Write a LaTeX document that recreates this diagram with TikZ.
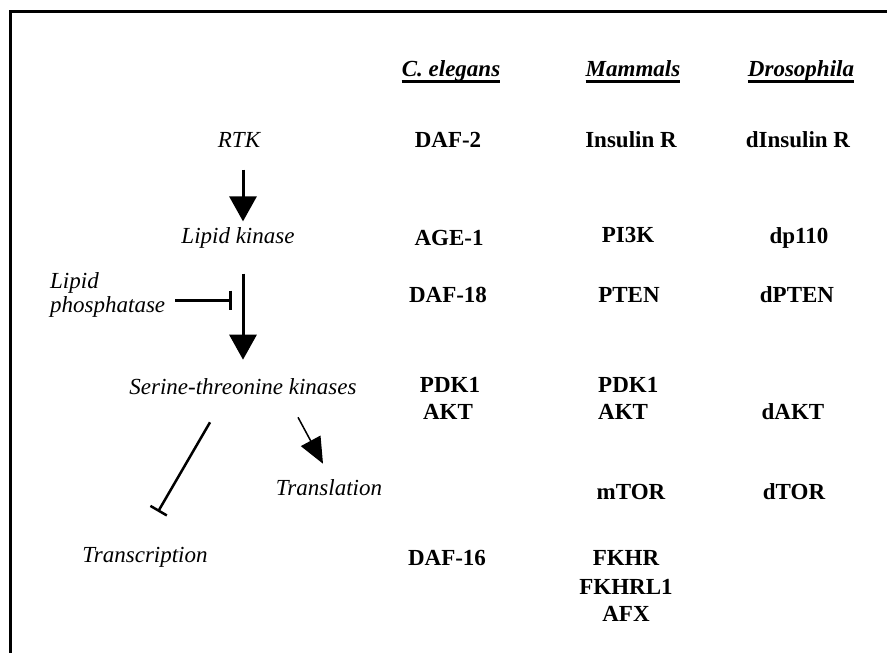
\documentclass[tikz,border=0pt]{standalone}
\usepackage{fontspec}
\setmainfont{Liberation Serif}
\usetikzlibrary{arrows.meta,calc}

\begin{document}
\begin{tikzpicture}[x=1pt,y=-1pt,
  every node/.style={inner sep=0pt,font=\fontsize{23}{24}\selectfont},
  cat/.style={font=\fontsize{23}{24}\selectfont\itshape},
  gene/.style={font=\fontsize{23}{24}\selectfont\bfseries},
  species/.style={font=\fontsize{23}{24}\selectfont\bfseries\itshape,anchor=base},
  act/.style={line width=3pt,-{Triangle[length=25pt,width=27pt]}},
  inh/.style={line width=3pt,-{Bar[width=19pt]}}]
  \useasboundingbox (0,0) rectangle (887,653);
  \draw[line width=3pt] (10,660) -- (10,11.5) -- (895,11.5);

  \node[species] (ce) at (451,76) {C. elegans};
  \node[species] (mam) at (633,76) {Mammals\ };
  \node[species] (dro) at (801,76) {Drosophila};
  \foreach \s in {ce,mam,dro}
    \draw[line width=2.5pt] ([yshift=-5.5pt]\s.base west) -- ([yshift=-5.5pt]\s.base east);

  \node[cat] (rtk) at (239,140) {RTK};
  \node[gene] (daf2) at (448,140) {DAF-2};
  \node[gene] (insr) at (631,140) {Insulin R};
  \node[gene] (dinsr) at (798,140) {dInsulin R};

  \node[cat] (lipkin) at (238,238) {Lipid kinase};
  \node[gene] (age1) at (449,238) {AGE-1};
  \node[gene] (pi3k) at (628,235) {PI3K};
  \node[gene] (dp110) at (799,238) {dp110};

  \node[cat,align=left,anchor=west] (lipphos) at (50,295) {Lipid\\phosphatase};
  \node[gene] (daf18) at (448,295) {DAF-18};
  \node[gene] (pten) at (629,295) {PTEN};
  \node[gene] (dpten) at (797,295) {dPTEN};

  \node[cat] (serine) at (243,387) {Serine-threonine kinases};
  \node[gene] (cepdk) at (450,385) {PDK1};
  \node[gene] (ceakt) at (448,412) {AKT};
  \node[gene,anchor=west] (mpdk) at (598,385) {PDK1};
  \node[gene,anchor=west] (makt) at (598,412) {AKT};
  \node[gene] (dakt) at (793,412) {dAKT};

  \node[cat] (transl) at (329,488) {Translation};
  \node[gene] (mtor) at (631,492) {mTOR};
  \node[gene] (dtor) at (794,492) {dTOR};

  \node[cat] (transc) at (145,557) {Transcription};
  \node[gene] (daf16) at (447,558) {DAF-16};
  \node[gene] (fkhr) at (626,558) {FKHR};
  \node[gene] (fkhrl) at (626,587) {FKHRL1};
  \node[gene] (afx) at (626,614) {AFX};

  \draw[act,shorten <=22pt,shorten >=6pt] (rtk.south -| serine.north) -- (lipkin.north -| serine.north);
  \draw[act,shorten <=25pt,shorten >=19pt] (lipkin.south -| serine.north) -- (serine.north);
  \coordinate (block) at (232,300);
  \draw[inh,shorten <=10pt] (lipphos.east |- block) -- (block);
  \draw[inh,line width=2.5pt] ($(serine.south)+(-33,27)$) -- ($(transc.north)+(13,-35)$);
  \draw[act,line width=1.5pt,-{Triangle[length=26pt,width=22pt]}] ($(serine.south)+(55,22)$) -- ($(transl.north)+(-6,-16)$);
\end{tikzpicture}
\end{document}
